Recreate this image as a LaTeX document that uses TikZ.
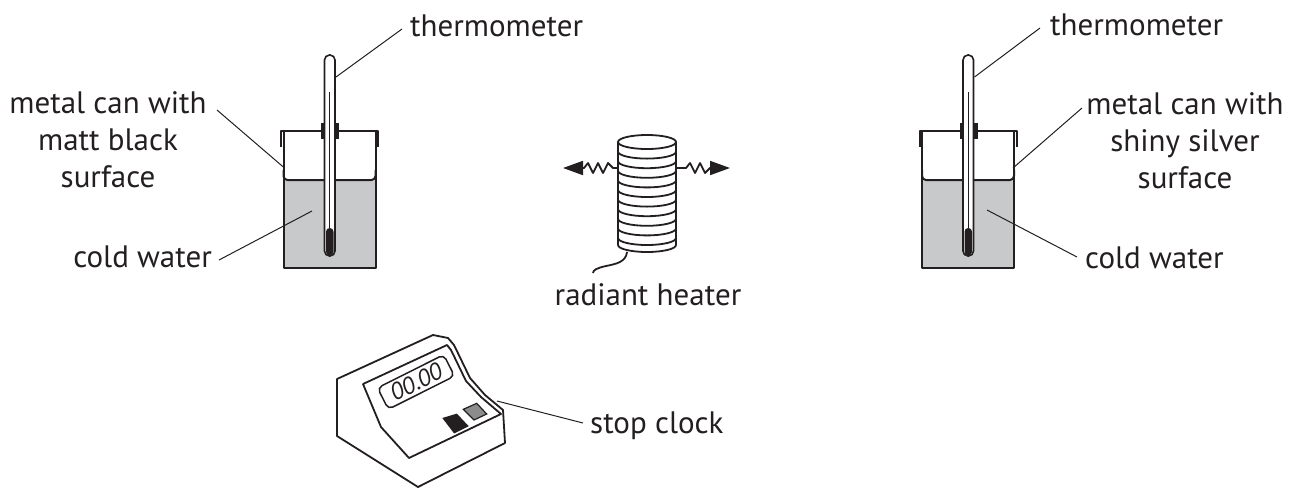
\documentclass[tikz,border=0pt]{standalone}
\usepackage{fontspec}
\usepackage{graphicx}
\setmainfont{PT Sans}
\usetikzlibrary{arrows.meta}
\definecolor{txt}{HTML}{231F20}
\definecolor{water}{RGB}{200,201,203}
\definecolor{btn}{RGB}{140,140,140}
\begin{document}
\begin{tikzpicture}[x=1pt,y=-1pt,
  lbl/.style={font=\fontsize{31}{37}\selectfont, text=txt, inner sep=0pt, align=center},
  lead/.style={line width=1pt, draw=txt},
  canline/.style={line width=2pt, draw=txt, line join=round},
  hl/.style={line width=1.8pt, draw=txt, line join=round},
]
\useasboundingbox (0,0) rectangle (1290,488);

% ---------- cans ----------
\foreach \sx/\nm in {0/L, 638.5/R}{
\begin{scope}[xshift=\sx pt]
  \fill[water] (283.5,180) rectangle (375.5,268);
  \draw[canline] (283.5,131) -- (283.5,268) -- (375.5,268) -- (375.5,131);
  \draw[canline] (281,147) -- (281,131) -- (378,131) -- (378,147);
  \draw[canline, rounded corners=4] (283.5,170) -- (283.5,180) -- (375.5,180) -- (375.5,170);
  % clamp
  \fill[txt] (321,123) rectangle (339,139);
  % thermometer
  \draw[line width=1.6pt, draw=txt, fill=white, rounded corners=5] (324.5,55) rectangle (335,256);
  \draw[line width=1.3pt, draw=txt] (329.75,92) -- (329.75,230);
  \fill[txt, rounded corners=3.6] (326,228) rectangle (333.5,255.5);
  \coordinate (therm\nm) at (336,77);
\end{scope}
}

% ---------- left labels ----------
\node[lbl, anchor=base west] (thermLtxt) at (410,36) {thermometer};
\coordinate (thermLend) at (402,29);
\draw[lead] (thermL) -- (thermLend);

\node[lbl, anchor=base] (canLtxt) at (108,187) {metal can with\\matt black\\surface};
\coordinate (canLend) at (217,110);
\coordinate (canLwall) at (284.5,168);
\draw[lead] (canLend) -- (canLwall);

\node[lbl, anchor=base east] (waterLtxt) at (212,267) {cold water};
\coordinate (waterLend) at (219,260);
\coordinate (waterLin) at (312,211);
\draw[lead] (waterLend) -- (waterLin);

% ---------- right labels ----------
\node[lbl, anchor=base west] (thermRtxt) at (1050,35) {thermometer};
\coordinate (thermRend) at (1040,28);
\draw[lead] (thermR) -- (thermRend);

\node[lbl, anchor=base] (canRtxt) at (1185,188) {metal can with\\shiny silver\\surface};
\coordinate (canRend) at (1082,108);
\coordinate (canRwall) at (1013,168);
\draw[lead] (canRend) -- (canRwall);

\node[lbl, anchor=base west] (waterRtxt) at (1085,268) {cold water};
\coordinate (waterRend) at (1077,257);
\coordinate (waterRin) at (987,210);
\draw[lead] (waterRin) -- (waterRend);

% ---------- heater ----------
\draw[hl] (618,142) -- (618,245);
\draw[hl] (676,142) -- (676,245);
\draw[hl] (647,142) ellipse [x radius=29, y radius=7];
\foreach \k in {1,...,10}{
  \draw[hl] (618,142+9.6*\k) arc[start angle=180, end angle=0, x radius=29, y radius=7];
}
\draw[hl] (618,245) arc[start angle=180, end angle=0, x radius=29, y radius=7];
\coordinate (hL) at (618,168);
\coordinate (hR) at (676,168);
\coordinate (aL) at (563,168);
\coordinate (aR) at (730,168);
\draw[hl, -{Triangle[length=20pt,width=14pt]}] (hL) -- (613,168) -- (608,163) -- (603,173) -- (598,163) -- (593,173) -- (588,163) -- (584,168) -- (aL);
\draw[hl, -{Triangle[length=20pt,width=14pt]}] (hR) -- (686,168) -- (690,163) -- (695,173) -- (700,163) -- (705,173) -- (710,168) -- (aR);
\draw[hl] (627,252) .. controls (626,262) and (616,264) .. (606,266) .. controls (597,268) and (593,270) .. (593,273);
\node[lbl, anchor=base] (heater) at (648,305) {radiant heater};

% ---------- stop clock ----------
\draw[hl] (337,379) -- (433,335) -- (448,338) -- (454,345) -- (470,378) -- (485,395) -- (503,410) -- (505,443) -- (418,487) -- (337,436) -- cycle;
\draw[hl] (363,384) -- (447,345) -- (451,350) -- (466,381) -- (481,397) -- (501,414) -- (409,458) -- (381,427) -- cycle;
\draw[line width=1.5pt, draw=txt, rounded corners=5] (377.5,387.9) -- (443.7,354.7) -- (454.5,376.1) -- (388.3,409.3) -- cycle;
\node[font=\fontsize{24}{24}\selectfont\itshape, text=txt, inner sep=0pt] (digits) at (416,382) {\rotatebox{26.6}{00.00}};
\filldraw[line width=1.2pt, draw=txt, fill=txt] (443.3,418.3) -- (456.7,414.3) -- (467.7,426) -- (454.3,432.7) -- cycle;
\filldraw[line width=1.2pt, draw=txt, fill=btn] (463.3,409.3) -- (476.7,403.3) -- (486.7,414) -- (474,420) -- cycle;
\coordinate (clockEdge) at (497,401);
\coordinate (clockEnd) at (583,423);
\draw[lead] (clockEdge) -- (clockEnd);
\node[lbl, anchor=base west] (clock) at (590,433) {stop clock};
\end{tikzpicture}
\end{document}
